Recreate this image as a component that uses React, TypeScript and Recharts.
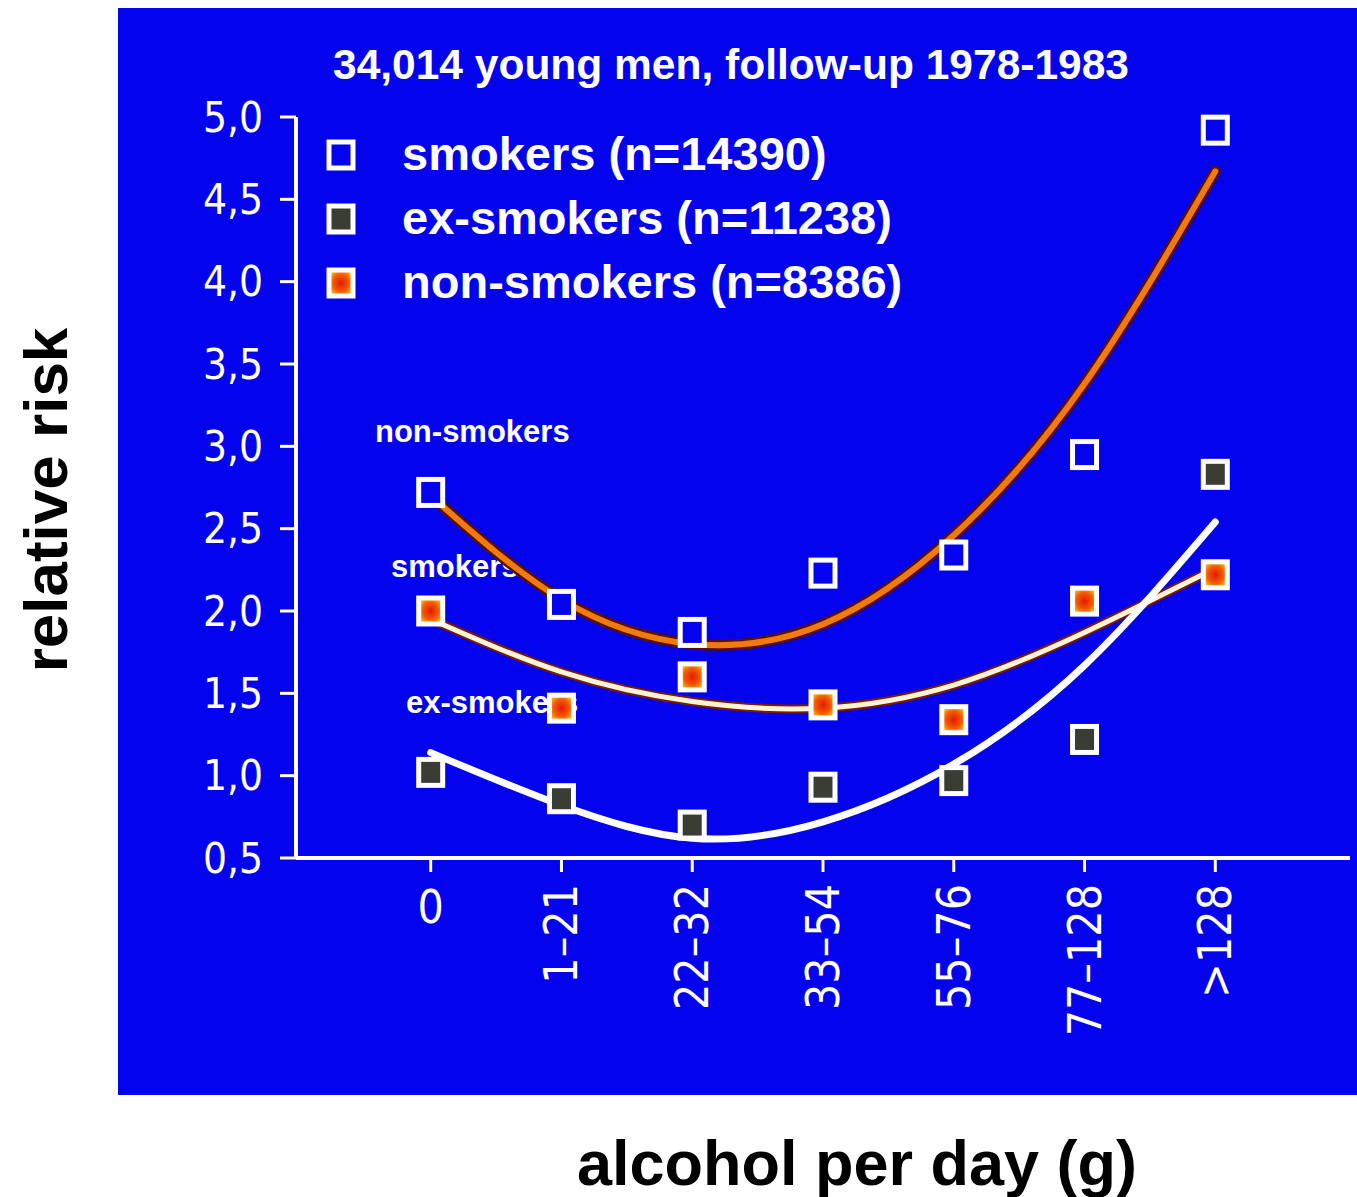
import React from 'react';
import { ComposedChart, Line, XAxis, YAxis, Legend } from 'recharts';

const categories = ['0', '1–21', '22–32', '33–54', '55–76', '77–128', '>128'];

// observed relative risk (markers)
const smokers = [2.72, 2.04, 1.87, 2.23, 2.34, 2.95, 4.92];
const exSmokers = [1.02, 0.86, 0.7, 0.93, 0.97, 1.22, 2.83];
const nonSmokers = [2.0, 1.41, 1.6, 1.43, 1.34, 2.06, 2.22];

const fitSmokers = [2.7, 2.07, 1.8, 1.92, 2.46, 3.38, 4.67];
const fitNonSmokers = [1.95, 1.63, 1.45, 1.41, 1.55, 1.87, 2.26];
const fitExSmokers = [1.14, 0.82, 0.62, 0.72, 1.07, 1.67, 2.54];

const yTicks = [0.5, 1.0, 1.5, 2.0, 2.5, 3.0, 3.5, 4.0, 4.5, 5.0];
const legendOrder = ['smokers', 'exSmokers', 'nonSmokers'];

const data = categories.map((label, i) => ({
  idx: i,
  label,
  smokers: smokers[i],
  exSmokers: exSmokers[i],
  nonSmokers: nonSmokers[i],
  fitSmokers: fitSmokers[i],
  fitNonSmokers: fitNonSmokers[i],
  fitExSmokers: fitExSmokers[i],
}));

const BLUE = '#0303EE';
const tickFont = "'DejaVu Sans Condensed', 'Liberation Sans Narrow', 'DejaVu Sans', sans-serif";
const boldFont = "'Liberation Sans', Arial, Helvetica, sans-serif";

const Marker = ({ cx, cy, kind }: any) => {
  if (cx == null || cy == null) return null;
  const fill = kind === 'smokers' ? BLUE : kind === 'exSmokers' ? '#3a3d34' : 'url(#orangeFill)';
  return (
    <rect x={cx - 12} y={cy - 13} width={24} height={26} fill={fill} stroke="#ffffff" strokeWidth={5} />
  );
};

const YTick = ({ x, y, payload }: any) => (
  <text x={x} y={y} textAnchor="end" dominantBaseline="central" fill="#ffffff" fontSize={42} fontFamily={tickFont}>
    {Number(payload.value).toFixed(1).replace('.', ',')}
  </text>
);

const XTick = ({ x, y, payload }: any) => {
  const label = categories[payload.value];
  if (label === '0') {
    return (
      <text x={x} y={y + 27} textAnchor="middle" dominantBaseline="central" fill="#ffffff" fontSize={46} fontFamily={tickFont}>
        {label}
      </text>
    );
  }
  return (
    <text
      x={x}
      y={y + 4}
      transform={`rotate(-90, ${x}, ${y + 4})`}
      textAnchor="end"
      dominantBaseline="central"
      fill="#ffffff"
      fontSize={46}
      fontFamily={tickFont}
    >
      {label}
    </text>
  );
};

const LegendContent = ({ payload }: any) => {
  const items = legendOrder
    .map((k) => (payload || []).find((e: any) => e.dataKey === k))
    .filter(Boolean);
  return (
    <div>
      {items.map((entry: any) => (
        <div key={entry.dataKey} style={{ display: 'flex', alignItems: 'center', height: 64 }}>
          <svg width={60} height={40} style={{ overflow: 'visible' }}>
            <Marker cx={21} cy={20} kind={entry.dataKey} />
          </svg>
          <span style={{ marginLeft: 22, color: '#ffffff', fontFamily: boldFont, fontWeight: 'bold', fontSize: 47, lineHeight: '47px', marginTop: -4 }}>
            {entry.value}
          </span>
        </div>
      ))}
    </div>
  );
};

const textStyle: React.CSSProperties = {
  position: 'absolute',
  color: '#ffffff',
  fontFamily: boldFont,
  fontWeight: 'bold',
  whiteSpace: 'nowrap',
};

export default function App() {
  return (
    <div style={{ position: 'absolute', left: 0, top: 0, width: 1357, height: 1197, background: '#ffffff', overflow: 'hidden' }}>
      <div style={{ position: 'absolute', left: 118, top: 8, width: 1239, height: 1087, background: BLUE }} />

      <div style={{ ...textStyle, left: 333, top: 40, fontSize: 42.5, lineHeight: '50px' }}>
        34,014 young men, follow-up 1978-1983
      </div>

      <div style={{ ...textStyle, left: 375, top: 414, fontSize: 31, lineHeight: '36px' }}>non-smokers</div>
      <div style={{ ...textStyle, left: 391, top: 549, fontSize: 31, lineHeight: '36px' }}>smokers</div>
      <div style={{ ...textStyle, left: 406, top: 685, fontSize: 31, lineHeight: '36px' }}>ex-smokers</div>

      <div style={{ position: 'absolute', left: 0, top: 0 }}>
        <ComposedChart
          width={1357}
          height={1197}
          data={data}
          margin={{ top: 117, right: 7, left: 236, bottom: 159 }}
        >
          <defs>
            <radialGradient id="orangeFill" cx="50%" cy="50%" r="60%">
              <stop offset="0%" stopColor="#e01a00" />
              <stop offset="55%" stopColor="#f55a00" />
              <stop offset="100%" stopColor="#ffd21a" />
            </radialGradient>
          </defs>
          <XAxis
            dataKey="idx"
            type="number"
            domain={[-1.03, 7.03]}
            allowDataOverflow
            ticks={[0, 1, 2, 3, 4, 5, 6]}
            height={180}
            tick={<XTick />}
            tickSize={14}
            tickMargin={8}
            tickLine={{ stroke: '#ffffff', strokeWidth: 3 }}
            axisLine={{ stroke: '#ffffff', strokeWidth: 4 }}
            interval={0}
          />
          <YAxis
            type="number"
            domain={[0.5, 5]}
            ticks={yTicks}
            width={60}
            tick={<YTick />}
            tickSize={16}
            tickMargin={17}
            tickLine={{ stroke: '#ffffff', strokeWidth: 3 }}
            axisLine={{ stroke: '#ffffff', strokeWidth: 4 }}
            interval={0}
          />
          <Legend
            layout="vertical"
            align="center"
            verticalAlign="middle"
            content={<LegendContent />}
            wrapperStyle={{ position: 'absolute', left: 320, top: 123, width: 700, height: 200 }}
          />

          {/* fitted curves */}
          <Line type="natural" dataKey="fitSmokers" stroke="#5a1000" strokeWidth={11} strokeLinecap="round" dot={false} activeDot={false} legendType="none" isAnimationActive={false} />
          <Line type="natural" dataKey="fitSmokers" stroke="#f07a10" strokeWidth={6} strokeLinecap="round" dot={false} activeDot={false} legendType="none" isAnimationActive={false} />
          <Line type="natural" dataKey="fitNonSmokers" stroke="#7a1a00" strokeWidth={9} strokeLinecap="round" dot={false} activeDot={false} legendType="none" isAnimationActive={false} />
          <Line type="natural" dataKey="fitNonSmokers" stroke="#fff4d8" strokeWidth={5} strokeLinecap="round" dot={false} activeDot={false} legendType="none" isAnimationActive={false} />
          <Line type="natural" dataKey="fitExSmokers" stroke="#ffffff" strokeWidth={7} strokeLinecap="round" dot={false} activeDot={false} legendType="none" isAnimationActive={false} />

          {/* observed markers */}
          <Line
            dataKey="smokers"
            name="smokers (n=14390)"
            stroke="none"
            activeDot={false}
            dot={(p: any) => <Marker key={`s${p.index}`} cx={p.cx} cy={p.cy} kind="smokers" />}
            isAnimationActive={false}
          />
          <Line
            dataKey="exSmokers"
            name="ex-smokers (n=11238)"
            stroke="none"
            activeDot={false}
            dot={(p: any) => <Marker key={`e${p.index}`} cx={p.cx} cy={p.cy} kind="exSmokers" />}
            isAnimationActive={false}
          />
          <Line
            dataKey="nonSmokers"
            name="non-smokers (n=8386)"
            stroke="none"
            activeDot={false}
            dot={(p: any) => <Marker key={`n${p.index}`} cx={p.cx} cy={p.cy} kind="nonSmokers" />}
            isAnimationActive={false}
          />
        </ComposedChart>
      </div>

      <div
        style={{
          position: 'absolute',
          left: 45,
          top: 500,
          transform: 'translate(-50%, -50%) rotate(-90deg)',
          color: '#000000',
          fontFamily: boldFont,
          fontWeight: 'bold',
          fontSize: 62,
          whiteSpace: 'nowrap',
        }}
      >
        relative risk
      </div>
      <div
        style={{
          position: 'absolute',
          left: 857,
          top: 1163,
          transform: 'translate(-50%, -50%)',
          color: '#000000',
          fontFamily: boldFont,
          fontWeight: 'bold',
          fontSize: 63,
          whiteSpace: 'nowrap',
        }}
      >
        alcohol per day (g)
      </div>
    </div>
  );
}
